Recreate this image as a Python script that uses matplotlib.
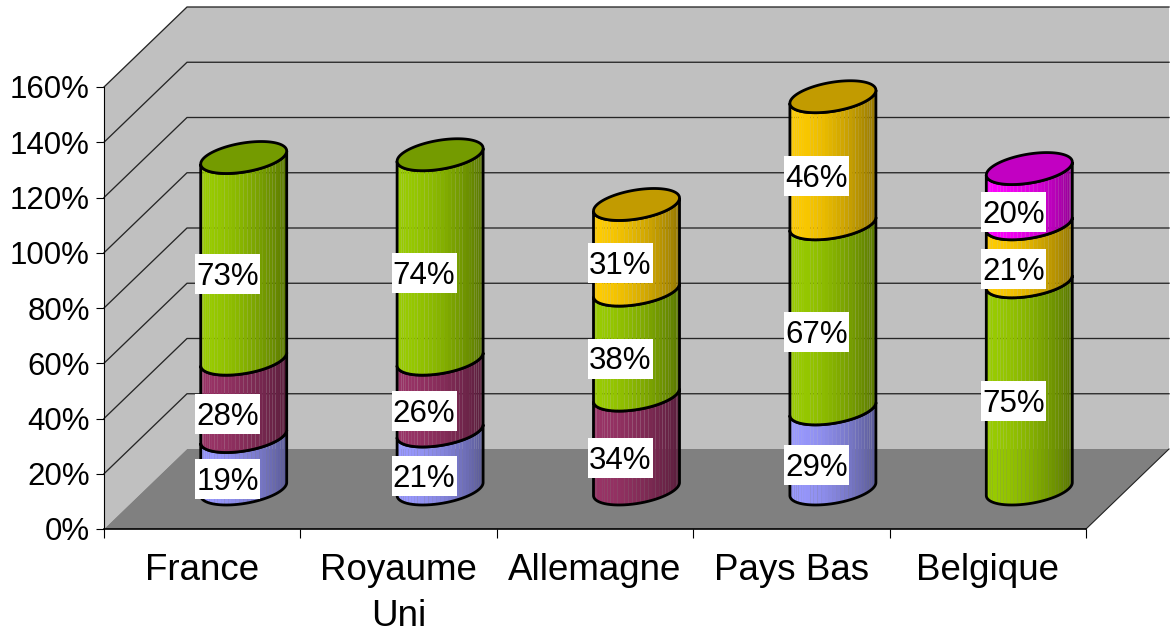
import numpy as np
import matplotlib
matplotlib.use('Agg')
import matplotlib.pyplot as plt
from matplotlib.collections import PolyCollection
from matplotlib.patches import Polygon, Rectangle

CATEGORIES = ['France', 'Royaume\nUni', 'Allemagne', 'Pays Bas', 'Belgique']
Y_TICKS = [0, 20, 40, 60, 80, 100, 120, 140, 160]

BLUE    = [19, 21, 0, 29, 0]
MAROON  = [28, 26, 34, 0, 0]
GREEN   = [73, 74, 38, 67, 75]
GOLD    = [0, 0, 31, 46, 21]
MAGENTA = [0, 0, 0, 0, 20]

SERIES = [BLUE, MAROON, GREEN, GOLD, MAGENTA]
COLORS = ['#9999ff', '#993366', '#99cc00', '#ffcc00', '#ff00ff']

plt.rcParams['font.family'] = ['Liberation Sans', 'DejaVu Sans']

W, H = 1172, 630
fig = plt.figure(figsize=(W / 100, H / 100), dpi=100)
# zone du tracé en pixels : x 104-1086, y 87-529
ax = fig.add_axes([104 / W, 1 - 529 / H, 982 / W, 442 / H])
ax.set_xlim(0, 5)
ax.set_ylim(0, 160)

# pixels -> unités de données
PX = 5 / 982
PY = 160 / 442
DX, DY = 83 * PX, 80 * PY            # profondeur
A, SHEAR, B = 43 * PX, 6.5 * PY, 14.6 * PY   # ellipse inclinée


def scaled(color, k):
    rgb = np.array(matplotlib.colors.to_rgb(color))
    return tuple(rgb * k)


def arc(cx, cy, t):
    return np.column_stack([cx + A * np.cos(t), cy + SHEAR * np.cos(t) - B * np.sin(t)])


# ── Parois et sol ────────────────────────────────────────────────
wall = '#c0c0c0'
ax.add_patch(Polygon([(0, 0), (DX, DY), (5 + DX, DY), (5 + DX, 160 + DY), (DX, 160 + DY), (0, 160)],
                     fc=wall, ec='none', clip_on=False, zorder=1))
ax.add_patch(Polygon([(0, 0), (5, 0), (5 + DX, DY), (DX, DY)],
                     fc='#808080', ec='none', clip_on=False, zorder=2))
for v in Y_TICKS[1:]:
    ax.plot([0, DX, 5 + DX], [v, v + DY, v + DY], color='#262626', lw=0.95,
            clip_on=False, zorder=3)
ax.plot([5, 5 + DX], [0, DY], color='#222222', lw=0.8, clip_on=False, zorder=3)

# ── Cylindres ────────────────────────────────────────────────────
z = 5
for i in range(len(CATEGORIES)):
    cx = i + 0.5 + DX / 2
    base = DY / 2
    last = None
    for values, color in zip(SERIES, COLORS):
        v = values[i]
        if v == 0:
            continue
        # bandes verticales (dégradé clair à gauche, sombre à droite)
        n = 34
        edges = np.linspace(np.pi, 0, n + 1)
        polys, cols = [], []
        for j in range(n):
            t = np.linspace(edges[j], edges[j + 1], 4)
            low = arc(cx, base, t)
            up = arc(cx, base + v, t)
            polys.append(np.vstack([low, up[::-1]]))
            frac = (np.cos(edges[j]) + 1) / 2
            cols.append(scaled(color, 1.0 - 0.42 * frac ** 1.6))
        ax.add_collection(PolyCollection(polys, facecolors=cols, edgecolors='none',
                                         antialiased=True, clip_on=False, zorder=z))
        t = np.linspace(np.pi, 0, 80)
        outline = np.vstack([arc(cx, base, t), arc(cx, base + v, t)[::-1]])
        ax.add_patch(Polygon(outline, closed=True, fc='none', ec='black', lw=2.0,
                             clip_on=False, zorder=z + 1))
        # étiquette : boîte blanche de 65x40 px
        lx, ly = cx - 16 * PX, base + v / 2 - 16 * PY
        ax.add_patch(Rectangle((lx - 32.5 * PX, ly - 20 * PY), 65 * PX, 40 * PY, fc='white',
                               ec='none', clip_on=False, zorder=49))
        ax.annotate(f'{v}%', xy=(lx, ly), xytext=(0, -2), textcoords='offset points',
                    ha='center', va='center', fontsize=22.5, color='black', zorder=50)
        base += v
        last = color
        z += 2
    t = np.linspace(0, 2 * np.pi, 120)
    ax.add_patch(Polygon(arc(cx, base, t), closed=True, fc=scaled(last, 0.76), ec='black',
                         lw=2.0, clip_on=False, zorder=z))
    z += 2

# ── Axes ─────────────────────────────────────────────────────────
for s in ('top', 'right'):
    ax.spines[s].set_visible(False)
ax.spines['left'].set_linewidth(0.8)
ax.spines['bottom'].set_linewidth(1.2)
ax.spines['left'].set_zorder(4)
ax.spines['bottom'].set_zorder(4)
ax.patch.set_visible(False)

ax.set_yticks(Y_TICKS)
ax.set_yticklabels([f'{v}%' for v in Y_TICKS], fontsize=22.5)
ax.tick_params(axis='y', length=5.8, width=0.8, pad=4.3)

ax.set_xticks(range(len(CATEGORIES) + 1))
ax.set_xticklabels([])
ax.set_xticks(np.arange(len(CATEGORIES)) + 0.5, minor=True)
ax.set_xticklabels(CATEGORIES, minor=True, fontsize=26.5, linespacing=1.38)
ax.tick_params(axis='x', which='major', length=6.5, width=0.8)
ax.tick_params(axis='x', which='minor', length=0, pad=17.5)

fig.savefig('out.png', dpi=100)
plt.close(fig)
